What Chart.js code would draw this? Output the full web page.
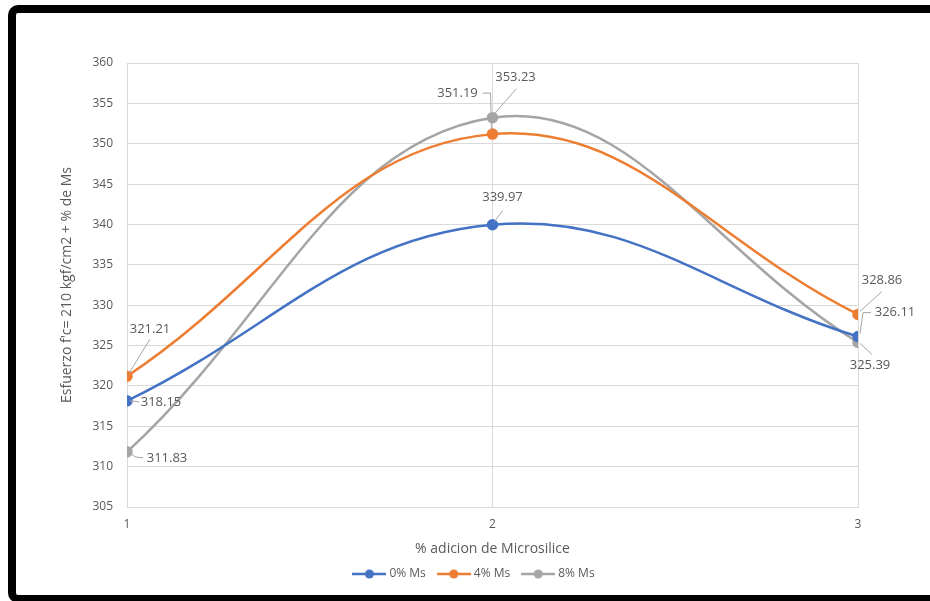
<!DOCTYPE html>
<html>
<head>
<meta charset="utf-8">
<script src="https://cdn.jsdelivr.net/npm/chart.js@4.4.0/dist/chart.umd.min.js"></script>
<style>
  html, body { margin: 0; padding: 0; background: #fff; overflow: hidden; }
  #marco {
    position: absolute; left: 8px; top: 5px; width: 1000px; height: 598px;
    border: 8px solid #000; border-radius: 10px; box-sizing: border-box;
  }
  #contenedor { position: absolute; left: 0; top: 0; width: 930px; height: 601px; }
</style>
</head>
<body>
<div id="marco"></div>
<div id="contenedor"><canvas id="grafica"></canvas></div>
<script>
// Datos de la gráfica
const categorias = [1, 2, 3];
const ms0 = [318.15, 339.97, 326.11];
const ms4 = [321.21, 351.19, 328.86];
const ms8 = [311.83, 353.23, 325.39];
const nombres = ["0% Ms", "4% Ms", "8% Ms"];
const ejeYMin = 305;
const ejeYMax = 360;
const ejeYPaso = 5;

const colores = ["#4472C4", "#ED7D31", "#A5A5A5"];
const colorTexto = "#595959";
const fuente = "'Open Sans', sans-serif";

// Posición de cada etiqueta respecto a su punto (dx, dy) y su línea guía
const posEtiquetas = [
    [
        { dx: 34, dy: 1.5, guia: [[3, 0], [12, 1]] },
        { dx: 10, dy: -27, guia: [[2, -3], [10, -14]] },
        { dx: 37, dy: -24, guia: [[2, -3], [5, -24], [13, -24]] },
    ],
    [
        { dx: 23, dy: -47, guia: [[2, -3], [23, -37]] },
        { dx: -35, dy: -41, guia: [[-1, -4], [-2, -41], [-10, -41]] },
        { dx: 24, dy: -34, guia: [[2, -3], [24, -23]] },
    ],
    [
        { dx: 40, dy: 6, guia: [[3, 1], [8, 5], [16, 6]] },
        { dx: 23, dy: -40, guia: [[1, -3], [24, -29]] },
        { dx: 12, dy: 23, guia: [[2, 1], [14, 12]] },
    ],
];

// Icono de leyenda: línea con punto al centro
function iconoLeyenda(color) {
    const c = document.createElement("canvas");
    c.width = 34;
    c.height = 12;
    const g = c.getContext("2d");
    g.strokeStyle = color;
    g.lineWidth = 2.5;
    g.beginPath();
    g.moveTo(0, 6);
    g.lineTo(34, 6);
    g.stroke();
    g.fillStyle = color;
    g.beginPath();
    g.arc(17, 6, 4.5, 0, Math.PI * 2);
    g.fill();
    return c;
}

// Plugin para dibujar etiquetas de datos con líneas guía
const etiquetasPlugin = {
    id: "etiquetas",
    afterLayout(chart) {
        // la leyenda va centrada en todo el recuadro, no solo en el área
        chart.legend.left += 21;
        chart.legend.right += 21;
        chart.legend.top -= 5;
        chart.legend.bottom -= 5;
    },
    afterDatasetsDraw(chart) {
        const ctx = chart.ctx;
        ctx.save();
        ctx.font = "13px " + fuente;
        ctx.textAlign = "center";
        ctx.textBaseline = "middle";
        chart.data.datasets.forEach((ds, i) => {
            const meta = chart.getDatasetMeta(i);
            meta.data.forEach((pt, j) => {
                const p = posEtiquetas[i][j];
                ctx.strokeStyle = "#A6A6A6";
                ctx.lineWidth = 1;
                ctx.beginPath();
                p.guia.forEach((q, k) => {
                    if (k === 0) ctx.moveTo(pt.x + q[0], pt.y + q[1]);
                    else ctx.lineTo(pt.x + q[0], pt.y + q[1]);
                });
                ctx.stroke();
                ctx.fillStyle = colorTexto;
                ctx.fillText(ds.data[j].y.toFixed(2), pt.x + p.dx, pt.y + p.dy);
            });
        });
        ctx.restore();
    },
};

const series = [ms0, ms4, ms8];
const datasets = series.map((s, i) => ({
    label: nombres[i],
    data: categorias.map((x, j) => ({ x: x, y: s[j] })),
    borderColor: colores[i],
    backgroundColor: colores[i],
    borderWidth: 2.5,
    pointRadius: 4.5,
    pointHoverRadius: 4.5,
    pointStyle: "circle",
    tension: 0.4,
    fill: false,
}));

const ctx = document.getElementById("grafica").getContext("2d");
new Chart(ctx, {
    type: "line",
    data: { datasets: datasets },
    options: {
        responsive: true,
        maintainAspectRatio: false,
        animation: false,
        layout: { padding: { left: 50, right: 72, top: 63, bottom: 6 } },
        plugins: {
            tooltip: { enabled: false },
            legend: {
                position: "bottom",
                labels: {
                    usePointStyle: true,
                    pointStyleWidth: 28,
                    padding: 14,
                    color: colorTexto,
                    font: { family: fuente, size: 12 },
                    generateLabels(chart) {
                        return chart.data.datasets.map((ds, i) => ({
                            text: ds.label,
                            pointStyle: iconoLeyenda(colores[i]),
                            fillStyle: colores[i],
                            strokeStyle: colores[i],
                            lineWidth: 0,
                            fontColor: colorTexto,
                            datasetIndex: i,
                            hidden: false,
                        }));
                    },
                },
            },
        },
        scales: {
            x: {
                type: "linear",
                min: categorias[0],
                max: categorias[categorias.length - 1],
                ticks: {
                    stepSize: 1,
                    padding: 10,
                    color: colorTexto,
                    font: { family: fuente, size: 12 },
                },
                grid: { color: "#D9D9D9", drawTicks: false },
                border: { color: "#D9D9D9" },
                title: {
                    display: true,
                    text: "% adicion de Microsilice",
                    color: colorTexto,
                    font: { family: fuente, size: 14 },
                    padding: { top: 4, bottom: 2 },
                },
                afterFit(scale) { scale.height = 52; },
            },
            y: {
                min: ejeYMin,
                max: ejeYMax,
                ticks: {
                    stepSize: ejeYPaso,
                    padding: 14,
                    color: colorTexto,
                    font: { family: fuente, size: 12 },
                },
                grid: { color: "#D9D9D9", drawTicks: false },
                border: { color: "#D9D9D9" },
                title: {
                    display: true,
                    text: "Esfuerzo f'c= 210 kgf/cm2 + % de Ms",
                    color: colorTexto,
                    font: { family: fuente, size: 14 },
                    padding: { top: 9, bottom: 0 },
                },
                afterFit(scale) { scale.width = 77; },
            },
        },
    },
    plugins: [etiquetasPlugin],
});
</script>
</body>
</html>
